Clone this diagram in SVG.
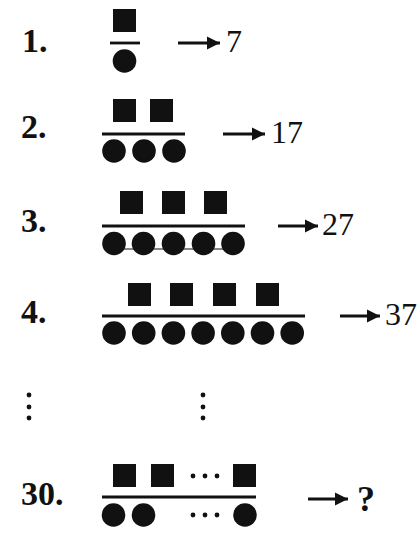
<svg xmlns="http://www.w3.org/2000/svg" width="420" height="534" viewBox="0 0 420 534">
<style>
.lbl{font-family:"Liberation Serif","Times New Roman",serif;font-weight:bold;font-size:34px;fill:#111}
.num{font-family:"Liberation Serif","Times New Roman",serif;font-size:32px;fill:#111}
.q{font-family:"Liberation Serif","Times New Roman",serif;font-weight:bold;font-size:36px;fill:#111}
.bar{stroke:#111;stroke-width:2.8}
.sq{fill:#111}
.ci{fill:#111}
.arr{stroke:#111;stroke-width:3;fill:none;marker-end:url(#ah)}
.dot{fill:#111}
</style>
<defs>
<marker id="ah" markerUnits="userSpaceOnUse" markerWidth="16" markerHeight="16" refX="13" refY="8" orient="auto">
<path d="M0,1.5 L13,8 L0,14.5 Z" fill="#111"/>
</marker>
<rect id="s" width="23" height="23"/>
<circle id="c" r="11.8"/>
</defs>

<g id="row1">
<text class="lbl" x="22" y="52">1.</text>
<use href="#s" class="sq" x="113" y="9"/>
<line class="bar" x1="110" y1="43" x2="140" y2="43"/>
<use href="#c" class="ci" x="124.5" y="61"/>
<text class="num" x="226" y="52">7</text>
</g>

<g id="row2">
<text class="lbl" x="21" y="138">2.</text>
<use href="#s" class="sq" x="113" y="99"/>
<use href="#s" class="sq" x="150" y="99"/>
<line class="bar" x1="102" y1="134" x2="185" y2="134"/>
<use href="#c" class="ci" x="114" y="151"/>
<use href="#c" class="ci" x="144" y="151"/>
<use href="#c" class="ci" x="174" y="151"/>
<text class="num" x="271" y="143">17</text>
</g>

<g id="row3">
<text class="lbl" x="21" y="232">3.</text>
<use href="#s" class="sq" x="120" y="191"/>
<use href="#s" class="sq" x="162" y="191"/>
<use href="#s" class="sq" x="204" y="191"/>
<line class="bar" x1="102" y1="226" x2="245" y2="226"/>
<line x1="114" y1="249" x2="233" y2="249" stroke="#111" stroke-width="1.2"/>
<use href="#c" class="ci" x="114" y="243.5"/>
<use href="#c" class="ci" x="143.5" y="243.5"/>
<use href="#c" class="ci" x="173.5" y="243.5"/>
<use href="#c" class="ci" x="203.5" y="243.5"/>
<use href="#c" class="ci" x="233" y="243.5"/>
<text class="num" x="322" y="235">27</text>
</g>

<g id="row4">
<text class="lbl" x="21" y="323">4.</text>
<use href="#s" class="sq" x="128" y="283"/>
<use href="#s" class="sq" x="170" y="283"/>
<use href="#s" class="sq" x="213" y="283"/>
<use href="#s" class="sq" x="256" y="283"/>
<line class="bar" x1="102" y1="316" x2="305" y2="316"/>
<use href="#c" class="ci" x="114" y="333"/>
<use href="#c" class="ci" x="143.7" y="333"/>
<use href="#c" class="ci" x="173.4" y="333"/>
<use href="#c" class="ci" x="203.1" y="333"/>
<use href="#c" class="ci" x="232.8" y="333"/>
<use href="#c" class="ci" x="262.5" y="333"/>
<use href="#c" class="ci" x="292.2" y="333"/>
<text class="num" x="385" y="325">37</text>
</g>

<g id="ellipsis">
<circle class="dot" cx="29" cy="395" r="2.4"/>
<circle class="dot" cx="29" cy="407" r="2.4"/>
<circle class="dot" cx="29" cy="418" r="2.4"/>
<circle class="dot" cx="203" cy="395" r="2.4"/>
<circle class="dot" cx="203" cy="407" r="2.4"/>
<circle class="dot" cx="203" cy="418" r="2.4"/>
</g>

<g id="row30">
<text class="lbl" x="21" y="505">30.</text>
<use href="#s" class="sq" x="113" y="464"/>
<use href="#s" class="sq" x="151" y="464"/>
<circle class="dot" cx="193" cy="476" r="2.4"/>
<circle class="dot" cx="205" cy="476" r="2.4"/>
<circle class="dot" cx="217" cy="476" r="2.4"/>
<use href="#s" class="sq" x="233" y="464"/>
<line class="bar" x1="102" y1="497" x2="256" y2="497"/>
<use href="#c" class="ci" x="113.5" y="515"/>
<use href="#c" class="ci" x="143.5" y="515"/>
<circle class="dot" cx="193" cy="515" r="2.4"/>
<circle class="dot" cx="205" cy="515" r="2.4"/>
<circle class="dot" cx="217" cy="515" r="2.4"/>
<use href="#c" class="ci" x="245" y="515"/>
<text class="q" x="357" y="511">?</text>
</g>

<g id="connectors">
<line class="arr" x1="178" y1="43" x2="220" y2="43"/>
<line class="arr" x1="223" y1="134" x2="265" y2="134"/>
<line class="arr" x1="278" y1="226" x2="318" y2="226"/>
<line class="arr" x1="340" y1="316" x2="380" y2="316"/>
<line class="arr" x1="308" y1="499" x2="348" y2="499"/>
</g>
</svg>
